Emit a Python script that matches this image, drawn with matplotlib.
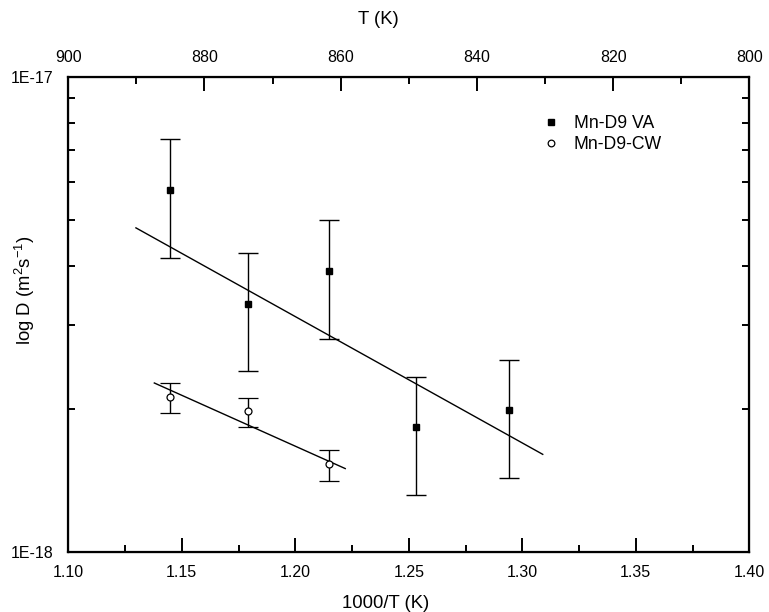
import matplotlib
matplotlib.use("Agg")
import matplotlib.pyplot as plt
from matplotlib.lines import Line2D
from matplotlib.ticker import FixedLocator, FuncFormatter, LogLocator, MultipleLocator, NullFormatter

plt.rcParams['font.family'] = ['Liberation Sans', 'DejaVu Sans']
plt.rcParams['mathtext.fontset'] = 'custom'
plt.rcParams['mathtext.rm'] = 'Liberation Sans'
plt.rcParams['mathtext.it'] = 'Liberation Sans'

# Data
inv_T = [1.145, 1.179, 1.215, 1.253, 1.294]
va_D = [5.79e-18, 3.33e-18, 3.90e-18, 1.83e-18, 1.99e-18]
va_hi = [7.41e-18, 4.26e-18, 4.99e-18, 2.34e-18, 2.54e-18]
va_lo = [4.16e-18, 2.40e-18, 2.81e-18, 1.32e-18, 1.43e-18]

cw_x = [1.145, 1.179, 1.215]
cw_D = [2.12e-18, 1.98e-18, 1.53e-18]
cw_hi = [2.27e-18, 2.11e-18, 1.64e-18]
cw_lo = [1.96e-18, 1.83e-18, 1.41e-18]

va_fit_x = [1.1298, 1.3090]
va_fit_D = [4.81e-18, 1.607e-18]
cw_fit_x = [1.1379, 1.2220]
cw_fit_D = [2.27e-18, 1.50e-18]

x_ticks = [1.10, 1.15, 1.20, 1.25, 1.30, 1.35, 1.40]
top_ticks = [900, 880, 860, 840, 820, 800]
series_labels = ['Mn-D9 VA', 'Mn-D9-CW']

fig = plt.figure(figsize=(7.69, 6.12), dpi=100)
ax = fig.add_axes([0.0888, 0.0975, 0.9744 - 0.0888, 0.8747 - 0.0975])

fs = 11.5
fs_lab = 13.3

va_err = [[d - l for d, l in zip(va_D, va_lo)], [h - d for d, h in zip(va_D, va_hi)]]
cw_err = [[d - l for d, l in zip(cw_D, cw_lo)], [h - d for d, h in zip(cw_D, cw_hi)]]

ax.plot(va_fit_x, va_fit_D, color='black', lw=1.0)
ax.plot(cw_fit_x, cw_fit_D, color='black', lw=1.0)

ax.errorbar(inv_T, va_D, yerr=va_err, fmt='s', color='black', ms=4.5,
            ecolor='black', elinewidth=1.0, capsize=7.5, capthick=1.0)
ax.errorbar(cw_x, cw_D, yerr=cw_err, fmt='o', color='black', mfc='white',
            mec='black', ms=5, mew=0.9, ecolor='black', elinewidth=1.0,
            capsize=7.5, capthick=1.0)

ax.set_yscale('log')
ax.set_xlim(1.10, 1.40)
ax.set_ylim(1e-18, 1e-17)

ax.xaxis.set_major_locator(FixedLocator(x_ticks))
ax.xaxis.set_minor_locator(MultipleLocator(0.025))
ax.xaxis.set_major_formatter(FuncFormatter(lambda v, p: f"{v:.2f}"))

ax.yaxis.set_major_locator(FixedLocator([1e-18, 1e-17]))
ax.yaxis.set_major_formatter(FuncFormatter(lambda v, p: "1E-18" if v < 5e-18 else "1E-17"))
ax.yaxis.set_minor_locator(LogLocator(base=10, subs=range(2, 10)))
ax.yaxis.set_minor_formatter(NullFormatter())

ax.tick_params(axis='both', which='major', direction='in', length=10, width=1.4,
               labelsize=fs, top=False, right=True)
ax.tick_params(axis='x', which='major', pad=9)
ax.tick_params(axis='both', which='minor', direction='in', length=5, width=1.4,
               top=False, right=True)
ax.tick_params(axis='y', which='major', length=0, pad=11)

for s in ax.spines.values():
    s.set_linewidth(1.6)

ax.set_xlabel('1000/T (K)', fontsize=fs_lab)
ax.xaxis.label.set_va('center')
ax.xaxis.set_label_coords(0.4665, -0.1066)
ax.set_ylabel('log D (m$^2$s$^{-1}$)', fontsize=fs_lab)
ax.yaxis.label.set_va('center')
ax.yaxis.label.set_ha('center')
ax.yaxis.set_label_coords(-0.0636, 0.5515)

ax2 = ax.twiny()
ax2.set_xlim(900, 800)
ax2.xaxis.set_major_locator(FixedLocator(top_ticks))
ax2.xaxis.set_minor_locator(MultipleLocator(10))
ax2.tick_params(axis='x', which='major', direction='in', length=10, width=1.4,
                labelsize=fs, pad=8.5)
ax2.tick_params(axis='x', which='minor', direction='in', length=5, width=1.4)
ax2.set_xlabel('T (K)', fontsize=fs_lab)
ax2.xaxis.label.set_va('center')
ax2.xaxis.set_label_coords(0.4548, 1.1192)

handles = [
    Line2D([], [], ls='none', marker='s', color='black', ms=4.2),
    Line2D([], [], ls='none', marker='o', mfc='white', mec='black', ms=4.8, mew=0.9),
]
ax.legend(handles, series_labels, loc='upper left', bbox_to_anchor=(0.675, 0.952),
          frameon=False, fontsize=12.7, handletextpad=0.9, labelspacing=0.23,
          handlelength=0.8)

fig.savefig('out.png', dpi=100)
